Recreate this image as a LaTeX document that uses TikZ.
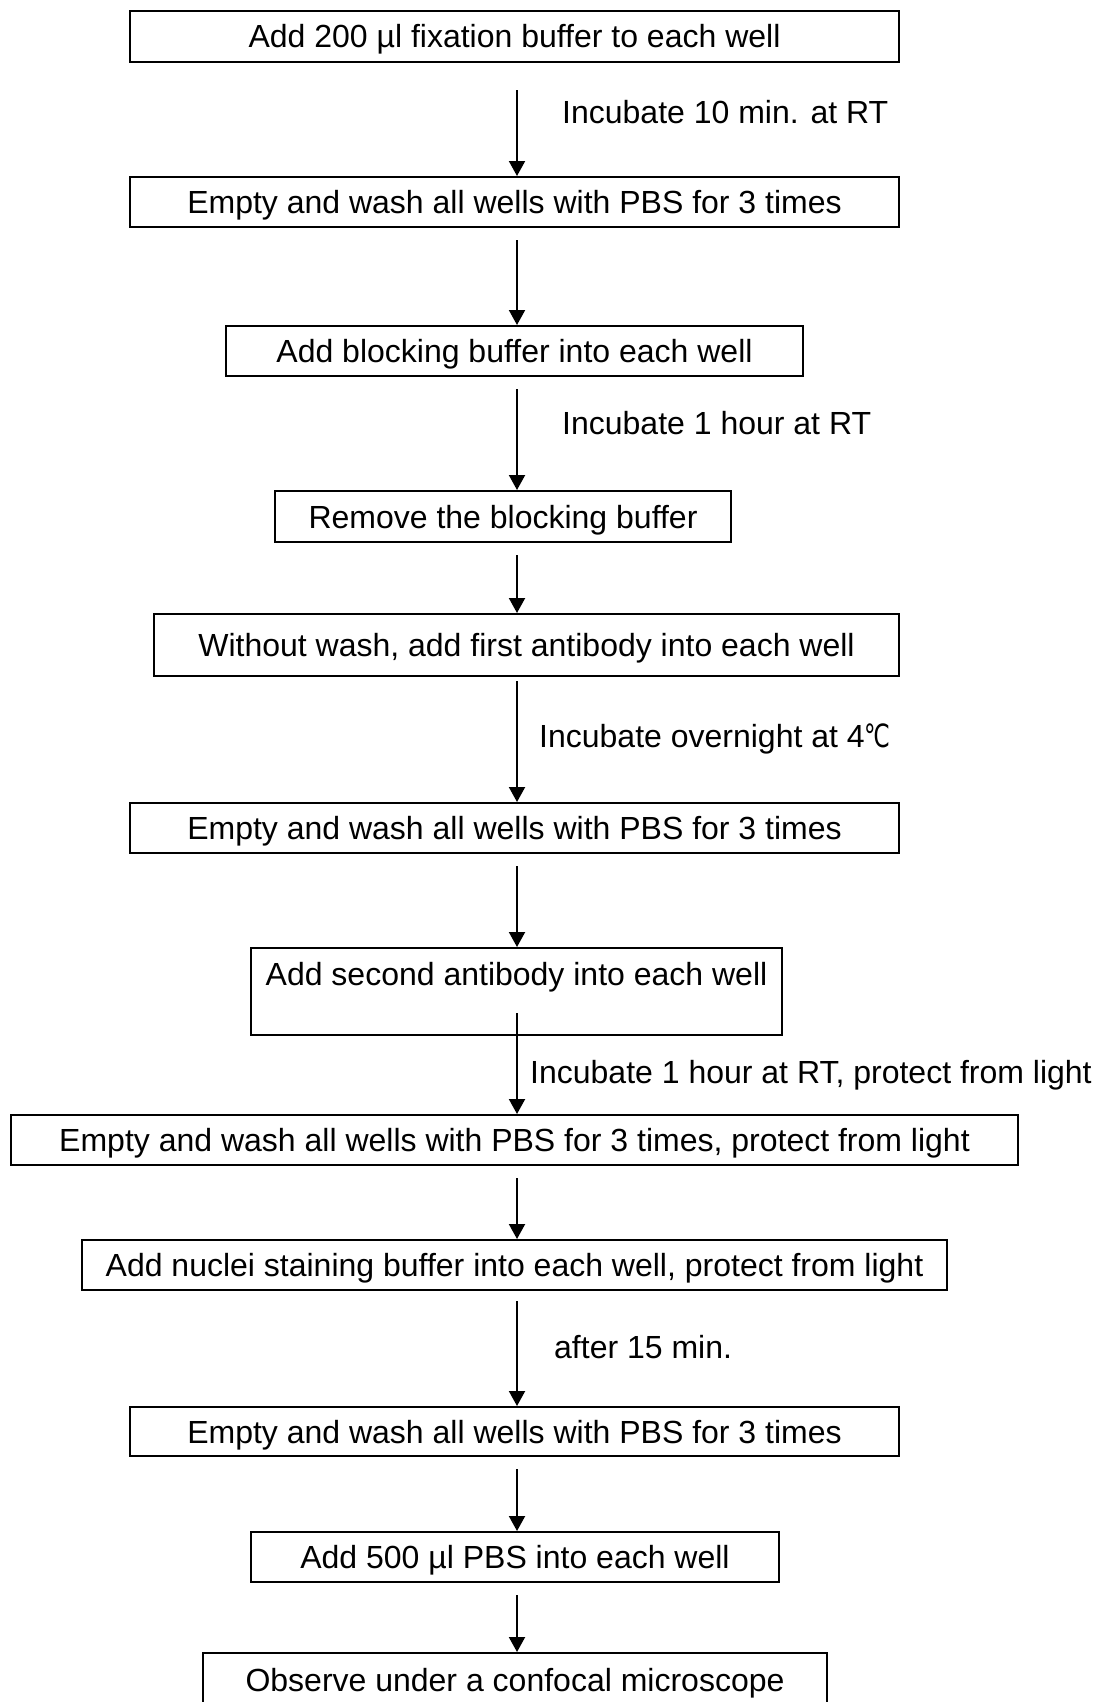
\documentclass[tikz,border=0pt]{standalone}
\usepackage{fontspec}
\setmainfont{Liberation Sans}
\newfontfamily\degfont{DejaVu Sans}
\usepackage{tikz}
\usetikzlibrary{arrows.meta,positioning,calc}

\tikzset{
  stepbox/.style={draw,line width=2pt,inner sep=0pt,text height=24pt,text depth=1pt,font=\fontsize{32}{38}\selectfont},
  steplabel/.style={anchor=west,inner sep=0pt,text height=24pt,text depth=1pt,font=\fontsize{32}{38}\selectfont},
  flow/.style={line width=2pt,-{Triangle[width=16pt,length=15pt]},shorten <=12pt,shorten >=0pt},
}

\begin{document}
\begin{tikzpicture}[x=1pt,y=-1pt]
  \useasboundingbox (0,0) rectangle (1104,1702); % 全体の大きさ
  \coordinate (spine) at (517,0); % 矢印が通る縦の軸

  \node[stepbox,minimum width=769pt,minimum height=51pt] (fix) at (514.5,36.5) {Add 200 µl fixation buffer to each well}; % 固定
  \node[stepbox,minimum width=769pt,minimum height=50pt] (washA) at (514.5,202) {Empty and wash all wells with PBS for 3 times}; % 洗浄1
  \node[stepbox,minimum width=577pt,minimum height=50pt] (block) at (514.5,351) {Add blocking buffer into each well}; % ブロッキング
  \node[stepbox,minimum width=456pt,minimum height=51pt] (remove) at (503,516.5) {Remove the blocking buffer}; % 除去
  \node[stepbox,minimum width=745pt,minimum height=62pt] (first) at (526.5,645) {Without wash, add first antibody into each well}; % 一次抗体
  \node[stepbox,minimum width=769pt,minimum height=50pt] (washB) at (514.5,828) {Empty and wash all wells with PBS for 3 times}; % 洗浄2
  \node[stepbox,minimum width=531pt,text height=37.5pt,text depth=49.5pt] (second) at (516.5,991.5) {Add second antibody into each well}; % 二次抗体
  \node[stepbox,minimum width=1007pt,minimum height=50pt] (washC) at (514.5,1140) {Empty and wash all wells with PBS for 3 times, protect from light}; % 洗浄3
  \node[stepbox,minimum width=865pt,minimum height=50pt] (stain) at (514.5,1265) {Add nuclei staining buffer into each well, protect from light}; % 核染色
  \node[stepbox,minimum width=769pt,minimum height=49pt] (washD) at (514.5,1431.5) {Empty and wash all wells with PBS for 3 times}; % 洗浄4
  \node[stepbox,minimum width=528pt,minimum height=50pt] (pbs) at (515,1557) {Add 500 µl PBS into each well}; % PBS
  \node[stepbox,minimum width=624pt,minimum height=54pt] (observe) at (515,1680) {Observe under a confocal microscope}; % 観察

  \node[steplabel] (incA) at (562,112) {Incubate 10 min. at RT}; % 条件1
  \node[steplabel] (incB) at (562,423) {Incubate 1 hour at RT}; % 条件2
  \node[steplabel] (incC) at (539,736) {Incubate overnight at 4{\degfont\scalebox{0.72}[1]{℃}}}; % 条件3
  \node[steplabel] (incD) at (530,1072) {Incubate 1 hour at RT, protect from light}; % 条件4
  \node[steplabel] (wait) at (554,1347) {after 15 min.}; % 条件5

  \draw[flow,shorten <=27pt] (fix.south -| spine) -- (washA.north -| spine); % 矢印1
  \draw[flow] (washA.south -| spine) -- (block.north -| spine); % 矢印2
  \draw[flow] (block.south -| spine) -- (remove.north -| spine); % 矢印3
  \draw[flow] (remove.south -| spine) -- (first.north -| spine); % 矢印4
  \draw[flow,shorten <=4pt] (first.south -| spine) -- (washB.north -| spine); % 矢印5
  \draw[flow] (washB.south -| spine) -- (second.north -| spine); % 矢印6
  \draw[flow,shorten <=-23pt] (second.south -| spine) -- (washC.north -| spine); % 矢印7（箱の中から）
  \draw[flow] (washC.south -| spine) -- (stain.north -| spine); % 矢印8
  \draw[flow,shorten <=10pt] (stain.south -| spine) -- (washD.north -| spine); % 矢印9
  \draw[flow] (washD.south -| spine) -- (pbs.north -| spine); % 矢印10
  \draw[flow] (pbs.south -| spine) -- (observe.north -| spine); % 矢印11
\end{tikzpicture}
\end{document}
